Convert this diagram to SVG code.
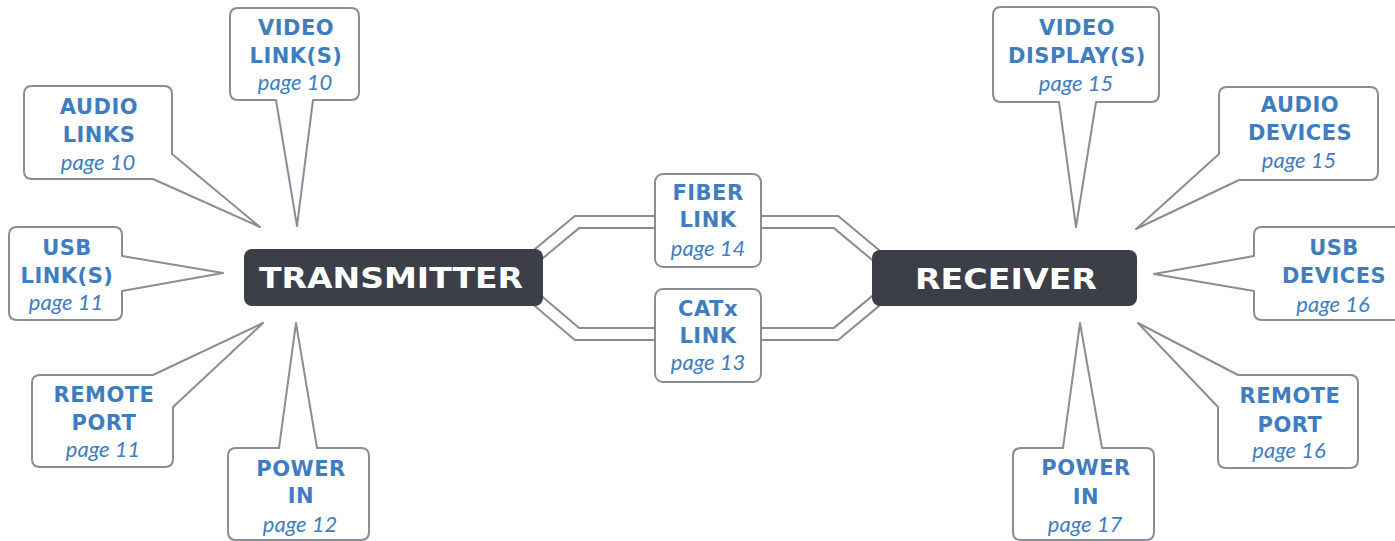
<svg xmlns="http://www.w3.org/2000/svg" width="1395" height="541" viewBox="0 0 1395 541">
<style>
.co{fill:#ffffff;stroke:#898d96;stroke-width:2;stroke-linejoin:round}
.hub{fill:#3c3f47}
.hubt{font-family:"DejaVu Sans",sans-serif;font-weight:bold;font-size:29px;fill:#ffffff;text-anchor:middle}
.b{font-family:"DejaVu Sans",sans-serif;font-weight:bold;font-size:21px;letter-spacing:0.5px;fill:#3f7dbf;text-anchor:middle}
.p{font-family:Lato,"Open Sans",sans-serif;font-style:italic;font-size:22px;fill:#3f7dbf;text-anchor:middle}
.wo{fill:none;stroke:#898d96;stroke-width:14;stroke-linejoin:miter}
.wi{fill:none;stroke:#ffffff;stroke-width:10;stroke-linejoin:miter}
</style>
<rect width="1395" height="541" fill="#ffffff"/>
<g id="connectors">
<path class="wo" d="M530,261 L577,222 H700 M700,222 H836 L884,262"/>
<path class="wo" d="M530,294 L577,334 H700 M700,334 H836 L884,294"/>
<path class="wi" d="M530,261 L577,222 H700 M700,222 H836 L884,262"/>
<path class="wi" d="M530,294 L577,334 H700 M700,334 H836 L884,294"/>
</g>
<g id="transmitter">
<rect class="hub" x="244" y="249" width="299" height="57" rx="8"/>
<text class="hubt" x="391" y="288" textLength="264" lengthAdjust="spacingAndGlyphs">TRANSMITTER</text>
</g>
<g id="receiver">
<rect class="hub" x="872" y="250" width="265" height="56" rx="8"/>
<text class="hubt" x="1006" y="289" textLength="182" lengthAdjust="spacingAndGlyphs">RECEIVER</text>
</g>
<g id="fiber-link">
<rect class="co" x="655" y="174" width="106" height="93" rx="8"/>
<text class="b" x="708" y="200">FIBER</text>
<text class="b" x="708" y="227">LINK</text>
<text class="p" x="708" y="256">page 14</text>
</g>
<g id="catx-link">
<rect class="co" x="655" y="289" width="106" height="93" rx="8"/>
<text class="b" x="708" y="316">CATx</text>
<text class="b" x="708" y="343">LINK</text>
<text class="p" x="708" y="370">page 13</text>
</g>
<g id="video-links">
<path class="co" d="M238,8 H351 Q359,8 359,16 V92 Q359,100 351,100 H313 L297,226 L276,100 H238 Q230,100 230,92 V16 Q230,8 238,8 Z"/>
<text class="b" x="296" y="35">VIDEO</text>
<text class="b" x="296" y="63">LINK(S)</text>
<text class="p" x="295" y="90">page 10</text>
</g>
<g id="audio-links">
<path class="co" d="M32,86 H164 Q172,86 172,94 V154 L260,227 L153,179 H32 Q24,179 24,171 V94 Q24,86 32,86 Z"/>
<text class="b" x="99" y="114">AUDIO</text>
<text class="b" x="99" y="142">LINKS</text>
<text class="p" x="98" y="170">page 10</text>
</g>
<g id="usb-links">
<path class="co" d="M17,227 H114 Q122,227 122,235 V256 L223,273 L122,291 V312 Q122,320 114,320 H17 Q9,320 9,312 V235 Q9,227 17,227 Z"/>
<text class="b" x="67" y="255">USB</text>
<text class="b" x="67" y="283">LINK(S)</text>
<text class="p" x="66" y="310">page 11</text>
</g>
<g id="remote-port-tx">
<path class="co" d="M40,375 H153 L263,323 L173,407 V459 Q173,467 165,467 H40 Q32,467 32,459 V383 Q32,375 40,375 Z"/>
<text class="b" x="104" y="402">REMOTE</text>
<text class="b" x="104" y="430">PORT</text>
<text class="p" x="103" y="457">page 11</text>
</g>
<g id="power-in-tx">
<path class="co" d="M236,448 H279 L296,323 L317,448 H361 Q369,448 369,456 V532 Q369,540 361,540 H236 Q228,540 228,532 V456 Q228,448 236,448 Z"/>
<text class="b" x="301" y="476">POWER</text>
<text class="b" x="301" y="503">IN</text>
<text class="p" x="300" y="532">page 12</text>
</g>
<g id="video-displays">
<path class="co" d="M1001,7 H1151 Q1159,7 1159,15 V94 Q1159,102 1151,102 H1096 L1076,227 L1059,102 H1001 Q993,102 993,94 V15 Q993,7 1001,7 Z"/>
<text class="b" x="1077" y="35">VIDEO</text>
<text class="b" x="1077" y="63">DISPLAY(S)</text>
<text class="p" x="1076" y="91">page 15</text>
</g>
<g id="audio-devices">
<path class="co" d="M1227,87 H1370 Q1378,87 1378,95 V172 Q1378,180 1370,180 H1239 L1136,229 L1219,154 V95 Q1219,87 1227,87 Z"/>
<text class="b" x="1300" y="112">AUDIO</text>
<text class="b" x="1300" y="140">DEVICES</text>
<text class="p" x="1299" y="168">page 15</text>
</g>
<g id="usb-devices">
<path class="co" d="M1262,227 H1405 V320 H1262 Q1254,320 1254,312 V291 L1154,274 L1254,256 V235 Q1254,227 1262,227 Z"/>
<text class="b" x="1334" y="255">USB</text>
<text class="b" x="1334" y="283">DEVICES</text>
<text class="p" x="1333" y="312">page 16</text>
</g>
<g id="remote-port-rx">
<path class="co" d="M1238,375 H1350 Q1358,375 1358,383 V460 Q1358,468 1350,468 H1226 Q1218,468 1218,460 V407 L1138,323 Z"/>
<text class="b" x="1290" y="403">REMOTE</text>
<text class="b" x="1290" y="432">PORT</text>
<text class="p" x="1289" y="458">page 16</text>
</g>
<g id="power-in-rx">
<path class="co" d="M1021,448 H1063 L1080,323 L1102,448 H1146 Q1154,448 1154,456 V532 Q1154,540 1146,540 H1021 Q1013,540 1013,532 V456 Q1013,448 1021,448 Z"/>
<text class="b" x="1086" y="475">POWER</text>
<text class="b" x="1086" y="504">IN</text>
<text class="p" x="1085" y="532">page 17</text>
</g>
</svg>
